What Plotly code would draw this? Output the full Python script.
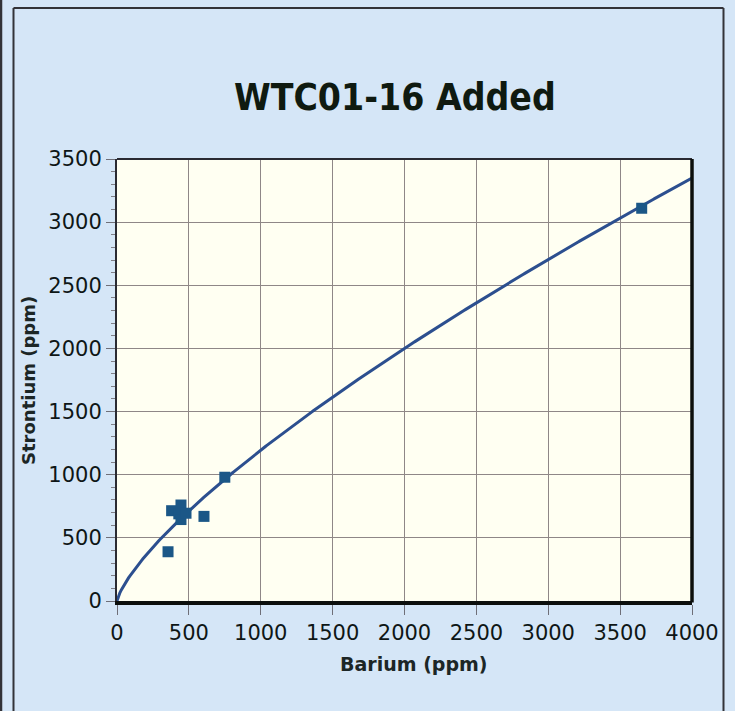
import numpy as np
import plotly.graph_objects as go

# Sample measurements (ppm)
barium = [355, 380, 430, 445, 445, 480, 605, 750, 3650]
strontium = [390, 715, 690, 760, 645, 695, 670, 980, 3110]

# Power-law trendline: Sr = a * Ba^b
trend_a = 7.0
trend_b = 0.744

x_ticks = [0, 500, 1000, 1500, 2000, 2500, 3000, 3500, 4000]
y_ticks = [0, 500, 1000, 1500, 2000, 2500, 3000, 3500]

W, H = 735, 711
L, R, T, B = 117, 43, 159, 110
pw, ph = W - L - R, H - T - B


def px(xp):
    return (xp - L) / pw


def py(yp):
    return (H - B - yp) / ph


trend_x = np.linspace(0, 4000, 400)
trend_y = trend_a * trend_x ** trend_b

fig = go.Figure()
fig.add_trace(go.Scatter(
    x=trend_x, y=trend_y, mode="lines",
    line=dict(color="#2c4f8f", width=3), hoverinfo="skip",
))
fig.add_trace(go.Scatter(
    x=barium, y=strontium, mode="markers",
    marker=dict(symbol="square", size=11, color="#1b5787",
                line=dict(width=0)),
))

label_family = "DejaVu Sans, sans-serif"
tick_font = dict(family=label_family, size=21, color="#0e1616")

fig.update_layout(
    width=W, height=H,
    margin=dict(l=L, r=R, t=T, b=B),
    paper_bgcolor="#d5e6f7",
    plot_bgcolor="#fffff2",
    showlegend=False,
    xaxis=dict(
        range=[0, 4000], tickvals=x_ticks, ticktext=[str(v) for v in x_ticks],
        showgrid=True, gridcolor="#8f8787", gridwidth=1,
        zeroline=False, showline=True, linecolor="#0c0f0c", linewidth=3.5,
        ticks="outside", ticklen=10, tickcolor="#6f6f78", tickwidth=1,
        tickfont=tick_font,
    ),
    yaxis=dict(
        range=[0, 3500], tickvals=y_ticks, ticktext=[str(v) for v in y_ticks],
        showgrid=True, gridcolor="#8f8787", gridwidth=1,
        zeroline=False, showline=True, linecolor="#2a2a32", linewidth=2,
        ticks="outside", ticklen=9, tickcolor="#6f6f78", tickwidth=1,
        minor=dict(dtick=100, ticks="outside", ticklen=4,
                   tickcolor="#7f7f88", showgrid=False),
        tickfont=tick_font,
    ),
    shapes=[
        # frame: thin top edge, heavy right edge
        dict(type="line", xref="paper", yref="paper", x0=0, x1=1, y0=1, y1=1,
             line=dict(color="#2a2a32", width=2)),
        dict(type="line", xref="paper", yref="paper", x0=1, x1=1,
             y0=py(H - B + 1.5), y1=1,
             line=dict(color="#0c0f0c", width=3.5)),
        # page border lines
        dict(type="line", xref="paper", yref="paper", x0=px(1), x1=px(1),
             y0=py(H + 5), y1=py(-5), line=dict(color="#333338", width=2.5)),
        dict(type="line", xref="paper", yref="paper", x0=px(13.5), x1=px(13.5),
             y0=py(H + 5), y1=py(8), line=dict(color="#333338", width=2)),
        dict(type="line", xref="paper", yref="paper", x0=px(13.5), x1=px(723.5),
             y0=py(8), y1=py(8), line=dict(color="#333338", width=2)),
        dict(type="line", xref="paper", yref="paper", x0=px(723.5), x1=px(723.5),
             y0=py(H + 5), y1=py(8), line=dict(color="#333338", width=2)),
    ],
    annotations=[
        dict(text="<b>WTC01-16 Added</b>", xref="paper", yref="paper",
             x=px(395), y=py(97), xanchor="center", yanchor="middle",
             showarrow=False,
             font=dict(family="DejaVu Sans Condensed, DejaVu Sans, sans-serif",
                       size=37, color="#0f1a10")),
        dict(text="<b>Barium (ppm)</b>", xref="paper", yref="paper",
             x=px(414), y=py(664), xanchor="center", yanchor="middle",
             showarrow=False,
             font=dict(family=label_family, size=19, color="#1c2626")),
        dict(text="<b>Strontium (ppm)</b>", xref="paper", yref="paper",
             x=px(28), y=py(381), xanchor="center", yanchor="middle",
             textangle=-90, showarrow=False,
             font=dict(family=label_family, size=18, color="#1c2626")),
    ],
)

fig.write_html("out.html")
